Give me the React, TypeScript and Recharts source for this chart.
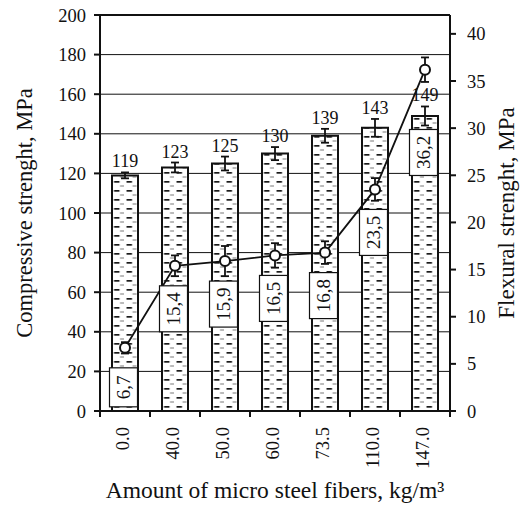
import React from 'react';
import {
  ComposedChart,
  Bar,
  Line,
  XAxis,
  YAxis,
  CartesianGrid,
  ErrorBar,
  LabelList,
  ReferenceLine,
} from 'recharts';

// amount of micro steel fibers, kg/m3
const fiberAmounts = ['0.0', '40.0', '50.0', '60.0', '73.5', '110.0', '147.0'];
// compressive strength, MPa (bars, left axis)
const compressive = [119, 123, 125, 130, 139, 143, 149];
const compressiveErr = [1.5, 2.5, 3.5, 3.3, 3.5, 4.5, 4.8];
// flexural strength, MPa (line, right axis)
const flexural = [6.7, 15.4, 15.9, 16.5, 16.8, 23.5, 36.2];
const flexuralErr = [0.6, 1.1, 1.6, 1.3, 1.2, 1.2, 1.3];

const leftTicks = [0, 20, 40, 60, 80, 100, 120, 140, 160, 180, 200];
const rightTicks = [0, 5, 10, 15, 20, 25, 30, 35, 40];

const data = fiberAmounts.map((name, i) => ({
  name,
  comp: compressive[i],
  compErr: compressiveErr[i],
  flex: flexural[i],
  flexErr: flexuralErr[i],
}));

const W = 523;
const H = 508;
const PLOT_LEFT = 100;
const PLOT_RIGHT = 450;
const PLOT_TOP = 15;
const PLOT_BOTTOM = 411;
const BAND = (PLOT_RIGHT - PLOT_LEFT) / fiberAmounts.length;
const FONT = '"Liberation Serif", "Times New Roman", serif';
const INK = '#111';

const XTick = (props: any) => {
  const { x, y, payload, index } = props;
  return (
    <g>
      <line x1={x - BAND / 2} y1={y} x2={x - BAND / 2} y2={y + 6} stroke={INK} strokeWidth={2} />
      {index === fiberAmounts.length - 1 && (
        <line x1={x + BAND / 2} y1={y} x2={x + BAND / 2} y2={y + 6} stroke={INK} strokeWidth={2} />
      )}
      <text
        x={x - 2}
        y={y + 16}
        transform={`rotate(-90 ${x - 2} ${y + 16})`}
        textAnchor="end"
        dominantBaseline="central"
        fontFamily={FONT}
        fontSize={18.5}
        fill={INK}
      >
        {payload.value}
      </text>
    </g>
  );
};

// vertical axis title, centred on the plot height
const SideTitle = ({ cx, text, size }: { cx: number; text: string; size: number }) => {
  const cy = (PLOT_TOP + PLOT_BOTTOM) / 2;
  return (
    <text
      x={cx}
      y={cy}
      transform={`rotate(-90 ${cx} ${cy})`}
      textAnchor="middle"
      dominantBaseline="central"
      fontFamily={FONT}
      fontSize={size}
      fill={INK}
    >
      {text}
    </text>
  );
};

const BarValueLabel = (props: any) => {
  const { x, y, width, value, index } = props;
  const errPx = (compressiveErr[index] * (PLOT_BOTTOM - PLOT_TOP)) / 200;
  return (
    <text
      x={x + width / 2}
      y={y - errPx - 5}
      textAnchor="middle"
      fontFamily={FONT}
      fontSize={18}
      fill={INK}
    >
      {value}
    </text>
  );
};

const FlexBoxLabel = (props: any) => {
  const { x, y, value, index } = props;
  const text = String(value).replace('.', ',');
  const h = text.length * 7 + 18;
  // keep the box clear of the bar top and its error bar
  const barErrBottom =
    PLOT_BOTTOM - ((compressive[index] - compressiveErr[index]) * (PLOT_BOTTOM - PLOT_TOP)) / 200;
  const top = Math.max(y + 20, barErrBottom + 4);
  const cx = x - 1.5;
  const cy = top + h / 2;
  return (
    <g>
      <rect x={cx - 14} y={top} width={28} height={h} fill="#fff" stroke={INK} strokeWidth={1.2} />
      <text
        x={cx}
        y={cy}
        transform={`rotate(-90 ${cx} ${cy})`}
        textAnchor="middle"
        dominantBaseline="central"
        fontFamily={FONT}
        fontSize={19}
        fill={INK}
      >
        {text}
      </text>
    </g>
  );
};

export default function App() {
  return (
    <div style={{ position: 'absolute', left: 0, top: 0, width: W, height: H, background: '#fff' }}>
      <ComposedChart
        width={W}
        height={H}
        data={data}
        margin={{ top: PLOT_TOP, right: 0, bottom: 0, left: 0 }}
      >
        <defs>
          <pattern id="dashFill" patternUnits="userSpaceOnUse" width={12.5} height={9}>
            <rect width={12.5} height={9} fill="#fff" />
            <rect x={1.5} y={1} width={5.5} height={1.7} fill="#1a1a1a" />
            <rect x={7.5} y={5.5} width={4} height={1} fill="#777" />
          </pattern>
        </defs>
        <CartesianGrid yAxisId="left" vertical={false} stroke={INK} strokeWidth={1} />
        <XAxis
          dataKey="name"
          height={H - PLOT_BOTTOM}
          axisLine={{ stroke: INK, strokeWidth: 2 }}
          tickLine={false}
          tickSize={0}
          tickMargin={0}
          tick={<XTick />}
          interval={0}
          label={{
            value: 'Amount of micro steel fibers, kg/m³',
            position: 'insideBottom',
            offset: 10,
            style: { fontFamily: FONT, fontSize: 23.5, fill: INK },
          }}
        />
        <YAxis
          yAxisId="left"
          width={PLOT_LEFT}
          domain={[0, 200]}
          ticks={leftTicks}
          interval={0}
          axisLine={{ stroke: INK, strokeWidth: 2 }}
          tickLine={{ stroke: INK, strokeWidth: 2 }}
          tickSize={6}
          tickMargin={8}
          tick={{ fontFamily: FONT, fontSize: 18.5, fill: INK }}
          label={{ content: () => <SideTitle cx={24} text="Compressive strenght, MPa" size={22.5} /> }}
        />
        <YAxis
          yAxisId="right"
          orientation="right"
          width={W - PLOT_RIGHT}
          domain={[0, 42]}
          ticks={rightTicks}
          interval={0}
          axisLine={{ stroke: INK, strokeWidth: 2 }}
          tickLine={{ stroke: INK, strokeWidth: 2 }}
          tickSize={6}
          tickMargin={11}
          tick={{ fontFamily: FONT, fontSize: 18.5, fill: INK }}
          label={{ content: () => <SideTitle cx={506} text="Flexural strenght, MPa" size={23} /> }}
        />
        <ReferenceLine yAxisId="left" y={200} stroke={INK} strokeWidth={2} />
        <Bar
          yAxisId="left"
          dataKey="comp"
          barSize={26}
          fill="url(#dashFill)"
          stroke={INK}
          strokeWidth={2}
          isAnimationActive={false}
        >
          <ErrorBar dataKey="compErr" width={4} stroke={INK} strokeWidth={1.8} />
          <LabelList dataKey="comp" content={<BarValueLabel />} />
        </Bar>
        <Line
          yAxisId="right"
          dataKey="flex"
          stroke={INK}
          strokeWidth={1.8}
          dot={{ r: 5, fill: '#fff', stroke: INK, strokeWidth: 2 }}
          activeDot={false}
          isAnimationActive={false}
        >
          <ErrorBar dataKey="flexErr" width={4} stroke={INK} strokeWidth={1.8} />
          <LabelList dataKey="flex" content={<FlexBoxLabel />} />
        </Line>
      </ComposedChart>
    </div>
  );
}
